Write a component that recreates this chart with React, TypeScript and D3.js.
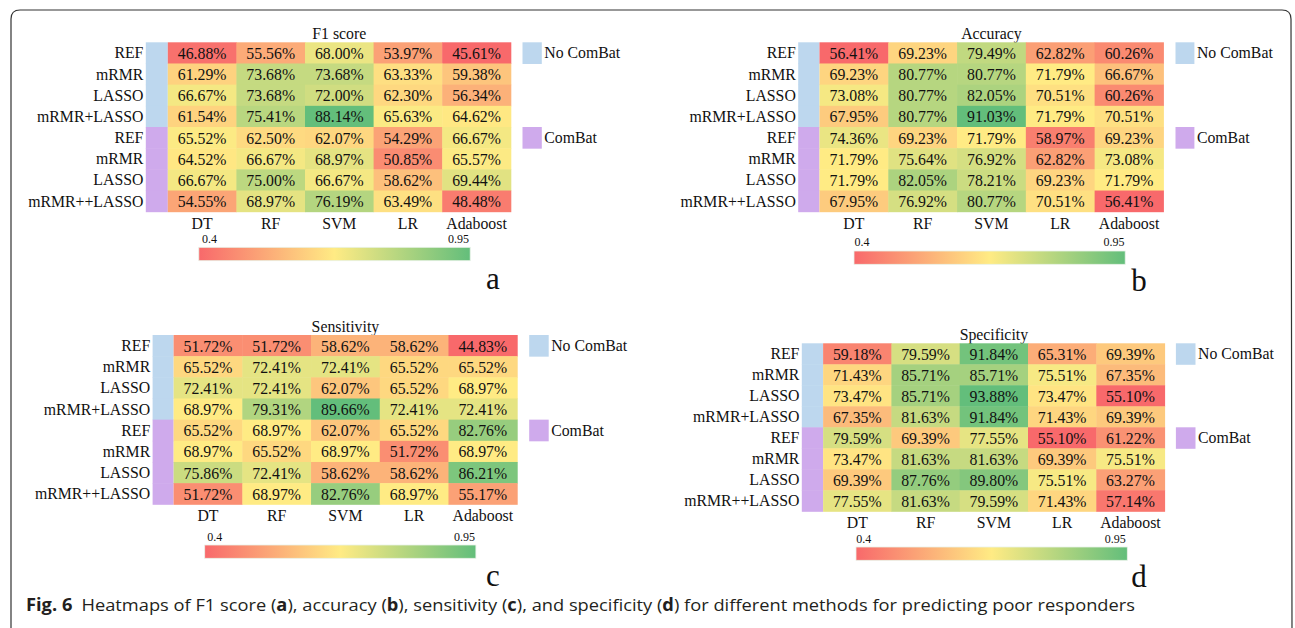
import * as d3 from "d3";

const models = ["DT", "RF", "SVM", "LR", "Adaboost"];
const methods = ["REF", "mRMR", "LASSO", "mRMR+LASSO", "REF", "mRMR", "LASSO", "mRMR++LASSO"];
const groups = ["No ComBat", "No ComBat", "No ComBat", "No ComBat", "ComBat", "ComBat", "ComBat", "ComBat"];
const groupNames = ["No ComBat", "ComBat"];
const colorbarTicks = [0.4, 0.95];

const f1Score = [
  [46.88, 55.56, 68.0, 53.97, 45.61],
  [61.29, 73.68, 73.68, 63.33, 59.38],
  [66.67, 73.68, 72.0, 62.3, 56.34],
  [61.54, 75.41, 88.14, 65.63, 64.62],
  [65.52, 62.5, 62.07, 54.29, 66.67],
  [64.52, 66.67, 68.97, 50.85, 65.57],
  [66.67, 75.0, 66.67, 58.62, 69.44],
  [54.55, 68.97, 76.19, 63.49, 48.48],
];

const accuracy = [
  [56.41, 69.23, 79.49, 62.82, 60.26],
  [69.23, 80.77, 80.77, 71.79, 66.67],
  [73.08, 80.77, 82.05, 70.51, 60.26],
  [67.95, 80.77, 91.03, 71.79, 70.51],
  [74.36, 69.23, 71.79, 58.97, 69.23],
  [71.79, 75.64, 76.92, 62.82, 73.08],
  [71.79, 82.05, 78.21, 69.23, 71.79],
  [67.95, 76.92, 80.77, 70.51, 56.41],
];

const sensitivity = [
  [51.72, 51.72, 58.62, 58.62, 44.83],
  [65.52, 72.41, 72.41, 65.52, 65.52],
  [72.41, 72.41, 62.07, 65.52, 68.97],
  [68.97, 79.31, 89.66, 72.41, 72.41],
  [65.52, 68.97, 62.07, 65.52, 82.76],
  [68.97, 65.52, 68.97, 51.72, 68.97],
  [75.86, 72.41, 58.62, 58.62, 86.21],
  [51.72, 68.97, 82.76, 68.97, 55.17],
];

const specificity = [
  [59.18, 79.59, 91.84, 65.31, 69.39],
  [71.43, 85.71, 85.71, 75.51, 67.35],
  [73.47, 85.71, 93.88, 73.47, 55.1],
  [67.35, 81.63, 91.84, 71.43, 69.39],
  [79.59, 69.39, 77.55, 55.1, 61.22],
  [73.47, 81.63, 81.63, 69.39, 75.51],
  [69.39, 87.76, 89.8, 75.51, 63.27],
  [77.55, 81.63, 79.59, 71.43, 57.14],
];

const RED = "#f8696b";
const YELLOW = "#ffeb84";
const GREEN = "#63be7b";
const groupColor = { "No ComBat": "#bdd7ee", ComBat: "#cfaaec" };
const serif = "'Liberation Serif', 'Times New Roman', serif";
const ink = "#111";
const FS = 15.8;

const panels = [
  {
    title: "F1 score", letter: "a", data: f1Score,
    stripX: 145.8, left: 167.8, right: 510.8, top: 42.3, bottom: 211.7,
    legX: 522.5, legW: 19.3, colY: 223, bar: [198.8, 470.2, 247.3, 260.7], barLab: [209.5, 458.5], barLabY: 238.5,
    letterX: 492.9, letterY: 289, titleY: 33,
  },
  {
    title: "Accuracy", letter: "b", data: accuracy,
    stripX: 798.2, left: 819.5, right: 1163.4, top: 42.3, bottom: 211.7,
    legX: 1175.5, legW: 18.9, colY: 223, bar: [854, 1125.2, 251, 264.3], barLab: [862, 1114], barLabY: 242,
    letterX: 1139, letterY: 291, titleY: 33,
  },
  {
    title: "Sensitivity", letter: "c", data: sensitivity,
    stripX: 152.6, left: 173.6, right: 517.2, top: 335, bottom: 504.3,
    legX: 529.2, legW: 19.5, colY: 515.7, bar: [204.7, 475.9, 545, 558.3], barLab: [214.8, 464.6], barLabY: 536.3,
    letterX: 493, letterY: 586, titleY: 326,
  },
  {
    title: "Specificity", letter: "d", data: specificity,
    stripX: 801.8, left: 823.1, right: 1164.6, top: 343.3, bottom: 511.3,
    legX: 1175.9, legW: 19.6, colY: 522.3, bar: [856, 1127.3, 547, 560.3], barLab: [863.7, 1115.2], barLabY: 538.5,
    letterX: 1139, letterY: 587, titleY: 334.3,
  },
];

const Label = ({ x, y, size = FS, anchor = "middle", children, dy = "0.35em" }) => (
  <text x={x} y={y} textAnchor={anchor} dy={dy} fontSize={size} fontFamily={serif} fill={ink}>
    {children}
  </text>
);

const Panel = ({ p, idx }) => {
  const x = d3.scaleBand().domain(models).range([p.left, p.right]);
  const y = d3.scaleBand().domain(d3.range(methods.length).map(String)).range([p.top, p.bottom]);
  const flat = p.data.flat();
  const color = d3
    .scaleLinear<string>()
    .domain([d3.min(flat), d3.median(flat), d3.max(flat)])
    .range([RED, YELLOW, GREEN])
    .interpolate(d3.interpolateRgb);
  const pct = d3.format(".2f");
  const [bx0, bx1, by0, by1] = p.bar;
  const barScale = d3.scaleLinear().domain(colorbarTicks).range(p.barLab);
  const gradId = `grad-${idx}`;

  return (
    <g>
      <defs>
        <linearGradient id={gradId} x1="0" x2="1" y1="0" y2="0">
          <stop offset="0%" stopColor={RED} />
          <stop offset="50%" stopColor={YELLOW} />
          <stop offset="100%" stopColor={GREEN} />
        </linearGradient>
      </defs>
      <Label x={(p.left + p.right) / 2} y={p.titleY}>{p.title}</Label>

      {methods.map((m, i) => (
        <g key={i}>
          <rect
            x={p.stripX}
            y={y(String(i))}
            width={p.left - p.stripX}
            height={y.bandwidth() + 0.5}
            fill={groupColor[groups[i]]}
          />
          <Label x={p.stripX - 2.4} y={y(String(i)) + y.bandwidth() / 2} anchor="end">
            {m}
          </Label>
          {models.map((c, j) => (
            <g key={c}>
              <rect
                x={x(c)}
                y={y(String(i))}
                width={x.bandwidth() + 0.5}
                height={y.bandwidth() + 0.5}
                fill={color(p.data[i][j])}
              />
              <Label x={x(c) + x.bandwidth() / 2} y={y(String(i)) + y.bandwidth() / 2 + 0.5}>
                {pct(p.data[i][j])}%
              </Label>
            </g>
          ))}
        </g>
      ))}

      {models.map((c) => (
        <Label key={c} x={x(c) + x.bandwidth() / 2} y={p.colY}>{c}</Label>
      ))}

      {groupNames.map((g, k) => {
        const gy = y(String(k * 4));
        return (
          <g key={g}>
            <rect x={p.legX} y={gy} width={p.legW} height={y.bandwidth() + 0.5} fill={groupColor[g]} />
            <Label x={p.legX + p.legW + 2.5} y={gy + y.bandwidth() / 2} anchor="start">{g}</Label>
          </g>
        );
      })}

      <rect x={bx0} y={by0} width={bx1 - bx0} height={by1 - by0} fill={`url(#${gradId})`} stroke="#e8f2e8" strokeWidth={0.8} />
      {colorbarTicks.map((t) => (
        <Label key={t} x={barScale(t)} y={p.barLabY} size={12}>{String(t)}</Label>
      ))}
      <Label x={p.letterX} y={p.letterY} size={31} dy="0">{p.letter}</Label>
    </g>
  );
};

export default function App() {
  const sans = "'Open Sans', 'Noto Sans', sans-serif";
  return (
    <svg width={1295} height={628} style={{ position: "absolute", left: 0, top: 0, background: "#fff" }}>
      <path
        d="M11,628 L11,19 Q11,10 20,10 L1282,10 Q1291,10 1291,19 L1292,628"
        fill="none"
        stroke="#333"
        strokeWidth={1.2}
      />
      {panels.map((p, i) => (
        <Panel key={p.letter} p={p} idx={i} />
      ))}
      <text x={26} y={611} fontFamily={sans} fontSize={17} fill="#231f20" textLength={1109} lengthAdjust="spacingAndGlyphs">
        <tspan fontWeight="bold">Fig. 6</tspan>
        <tspan>{"\u2002Heatmaps of F1 score ("}</tspan>
        <tspan fontWeight="bold">a</tspan>
        <tspan>{"), accuracy ("}</tspan>
        <tspan fontWeight="bold">b</tspan>
        <tspan>{"), sensitivity ("}</tspan>
        <tspan fontWeight="bold">c</tspan>
        <tspan>{"), and specificity ("}</tspan>
        <tspan fontWeight="bold">d</tspan>
        <tspan>{") for different methods for predicting poor responders"}</tspan>
      </text>
    </svg>
  );
}
